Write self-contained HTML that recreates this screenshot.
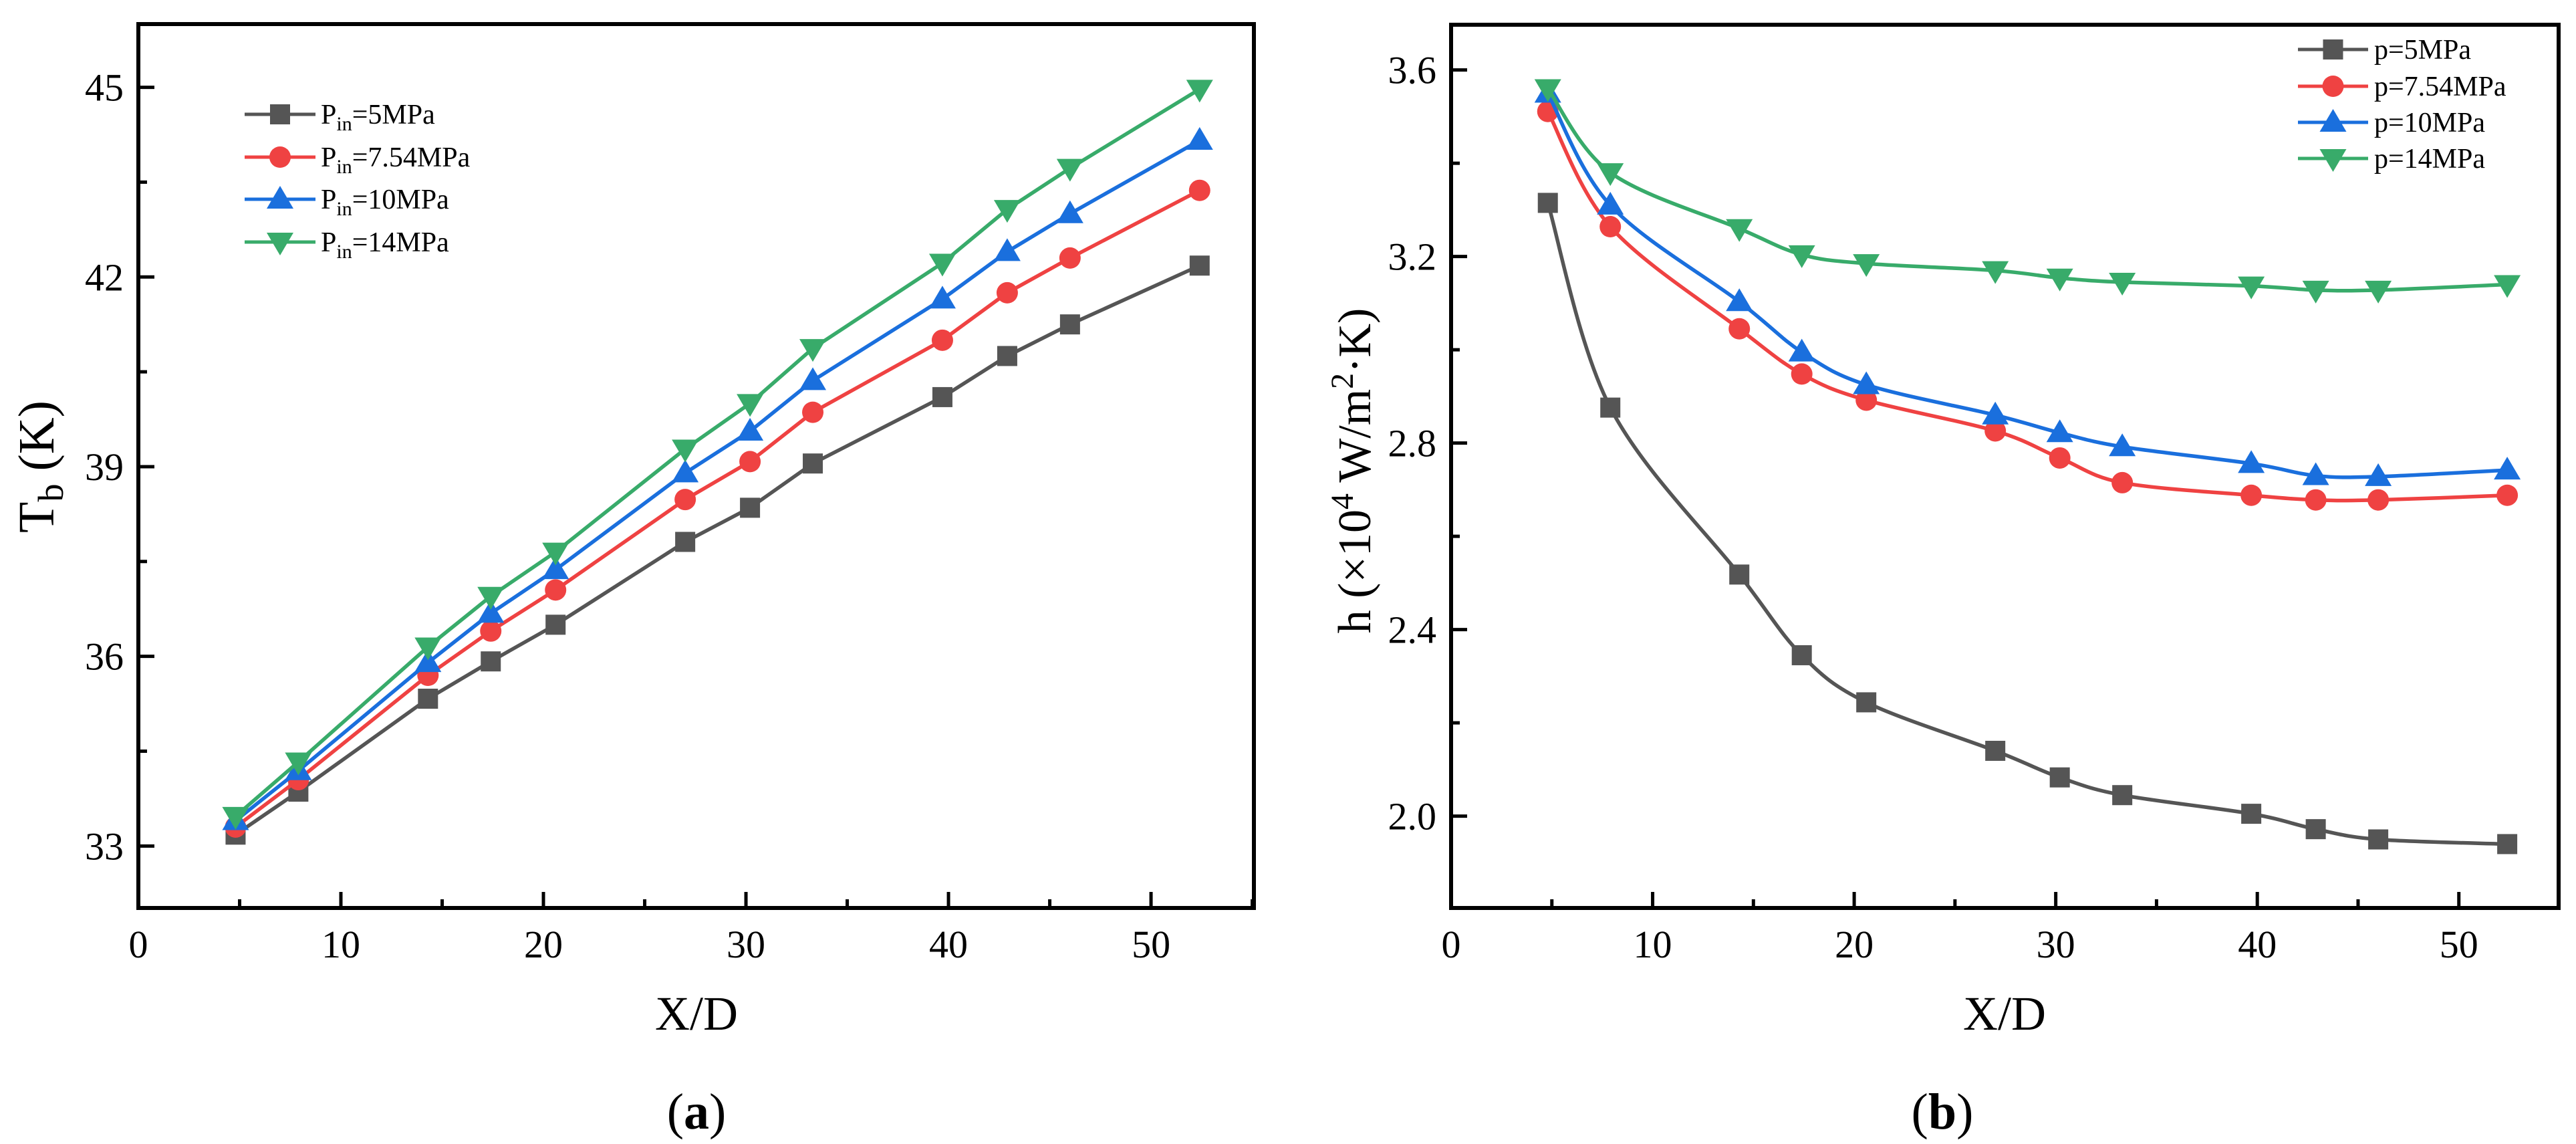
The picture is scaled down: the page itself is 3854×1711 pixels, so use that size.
<!DOCTYPE html>
<html><head><meta charset="utf-8">
<style>
html,body{margin:0;padding:0;background:#fff;}
svg{display:block;font-family:"Liberation Serif",serif;}
</style></head>
<body>
<svg id="fig" width="3854" height="1711" viewBox="0 0 3854 1711" xmlns="http://www.w3.org/2000/svg"></svg>
<script>
const xPos = [4.8, 7.9, 14.3, 17.4, 20.6, 27.0, 30.2, 33.3, 39.7, 42.9, 46.0, 52.4];
const seriesNamesA = ["Pin=5MPa","Pin=7.54MPa","Pin=10MPa","Pin=14MPa"];
const tbP5   = [33.18, 33.86, 35.33, 35.92, 36.50, 37.81, 38.35, 39.05, 40.10, 40.75, 41.25, 42.18];
const tbP754 = [33.30, 34.05, 35.70, 36.40, 37.05, 38.48, 39.08, 39.86, 41.00, 41.75, 42.30, 43.37];
const tbP10  = [33.40, 34.19, 35.90, 36.68, 37.37, 38.90, 39.56, 40.36, 41.65, 42.40, 43.00, 44.16];
const tbP14  = [33.47, 34.33, 36.15, 36.95, 37.65, 39.28, 40.00, 40.87, 42.22, 43.07, 43.72, 44.97];
const hP5    = [3.315, 2.876, 2.518, 2.345, 2.244, 2.140, 2.083, 2.045, 2.005, 1.972, 1.950, 1.940];
const hP754  = [3.511, 3.264, 3.045, 2.948, 2.892, 2.826, 2.768, 2.715, 2.688, 2.678, 2.678, 2.688];
const hP10   = [3.550, 3.310, 3.103, 2.995, 2.925, 2.860, 2.822, 2.792, 2.756, 2.730, 2.728, 2.742];
const hP14   = [3.560, 3.380, 3.260, 3.204, 3.185, 3.170, 3.154, 3.145, 3.137, 3.128, 3.128, 3.140];
const xTicks = [0, 10, 20, 30, 40, 50];
const yTicksA = [33, 36, 39, 42, 45];
const yTicksB = [2.0, 2.4, 2.8, 3.2, 3.6];
const yTickLabelsB = ["2.0","2.4","2.8","3.2","3.6"];

const NS = "http://www.w3.org/2000/svg";
const svg = document.getElementById("fig");
const colors = ["#555555","#ef4242","#1a6fdd","#38ab6a"];
const markers = ["square","circle","up","down"];

function mk(tag, attrs, parent){
  const e = document.createElementNS(NS, tag);
  for (const k in attrs) e.setAttribute(k, attrs[k]);
  (parent||svg).appendChild(e);
  return e;
}
function marker(g, kind, x, y, col){
  let e;
  if (kind==="square") e = mk("rect",{x:x-15,y:y-15,width:30,height:30,fill:col},g);
  else if (kind==="circle") e = mk("circle",{cx:x,cy:y,r:16,fill:col},g);
  else if (kind==="up") e = mk("polygon",{points:`${x},${y-20} ${x+20},${y+14} ${x-20},${y+14}`,fill:col},g);
  else e = mk("polygon",{points:`${x},${y+20} ${x+20},${y-14} ${x-20},${y-14}`,fill:col},g);
  
  
}
function splinePath(pts){
  let d = `M${pts[0][0]},${pts[0][1]}`;
  for (let i=0;i<pts.length-1;i++){
    const p0=pts[Math.max(0,i-1)], p1=pts[i], p2=pts[i+1], p3=pts[Math.min(pts.length-1,i+2)];
    const c1x=p1[0]+(p2[0]-p0[0])/6, c1y=p1[1]+(p2[1]-p0[1])/6;
    const c2x=p2[0]-(p3[0]-p1[0])/6, c2y=p2[1]-(p3[1]-p1[1])/6;
    d += ` C${c1x},${c1y} ${c2x},${c2y} ${p2[0]},${p2[1]}`;
  }
  return d;
}

function panel(cfg){
  const {L,R,T,B,xMax,yMin,yMax,yTicks,yLabels,series,smooth,name} = cfg;
  const sx = v => L + (v/xMax)*(R-L);
  const sy = v => B - (v-yMin)/(yMax-yMin)*(B-T);
  const g = mk("g",{});
  
  
  series.forEach((vals,si)=>{
    const pts = xPos.map((x,i)=>[sx(x), sy(vals[i])]);
    const sg = mk("g",{},g);
    
    
    let d;
    if (smooth) d = splinePath(pts);
    else d = "M" + pts.map(p=>p.join(",")).join(" L");
    const path = mk("path",{d:d,fill:"none",stroke:colors[si],"stroke-width":5.5,"stroke-linejoin":"round"},sg);
    
    
    pts.forEach(p=>marker(sg, markers[si], p[0], p[1], colors[si]));
  });
  const fr = mk("rect",{x:L,y:T,width:R-L,height:B-T,fill:"none",stroke:"#000","stroke-width":6},g);
  
  
  for (let v=0; v<=xMax; v+=5){
    const x = sx(v), major = (v%10===0);
    mk("line",{x1:x,y1:B,x2:x,y2:B-(major?24:13),stroke:"#000","stroke-width":5},g);
  }
  xTicks.forEach(v=>{
    const t = mk("text",{x:sx(v),y:B+74,"font-size":58,"text-anchor":"middle"},g);
    t.textContent = String(v);
    
    
  });
  const step = yTicks[1]-yTicks[0];
  for (let i=0;i<yTicks.length;i++){
    const y = sy(yTicks[i]);
    mk("line",{x1:L,y1:y,x2:L+24,y2:y,stroke:"#000","stroke-width":5},g);
    const ym = sy(yTicks[i]+step/2);
    if (ym>T) mk("line",{x1:L,y1:ym,x2:L+13,y2:ym,stroke:"#000","stroke-width":5},g);
    const t = mk("text",{x:L-22,y:y+20,"font-size":58,"text-anchor":"end"},g);
    t.textContent = yLabels[i];
    
    
  }
  const ym0 = sy(yTicks[0]-step/2);
  if (ym0<B) mk("line",{x1:L,y1:ym0,x2:L+13,y2:ym0,stroke:"#000","stroke-width":5},g);
  return g;
}

panel({L:207,R:1876,T:36,B:1358,xMax:55.08,yMin:32.02,yMax:46.0,yTicks:yTicksA,
  yLabels:yTicksA.map(String),series:[tbP5,tbP754,tbP10,tbP14],smooth:false,name:"panel-a"});
panel({L:2171,R:3828,T:37,B:1358,xMax:54.95,yMin:1.803,yMax:3.697,yTicks:yTicksB,
  yLabels:yTickLabelsB,series:[hP5,hP754,hP10,hP14],smooth:true,name:"panel-b"});

function legendEntry(x0,x1,y,si,labelHTML,tx,name){
  const g = mk("g",{});
  
  
  mk("line",{x1:x0,y1:y,x2:x1,y2:y,stroke:colors[si],"stroke-width":5},g);
  marker(g, markers[si], (x0+x1)/2, y, colors[si]);
  const t = mk("text",{x:tx,y:y+14,"font-size":42},g);
  t.innerHTML = labelHTML;
}
const labA = ["5MPa","7.54MPa","10MPa","14MPa"];
const rowA = [171,235,298,362];
labA.forEach((l,i)=>legendEntry(366,472,rowA[i],i,
  `P<tspan font-size="30" dy="10">in</tspan><tspan dy="-10">=${l}</tspan>`,480,'legend-entry-a-'+i));
const rowB = [74,129,183,237];
labA.forEach((l,i)=>legendEntry(3438,3543,rowB[i],i,`p=${l}`,3552,'legend-entry-b-'+i));
</script>
<script>
(function(){
  const NS="http://www.w3.org/2000/svg";
  const svg=document.getElementById("fig");
  function txt(attrs, html, name){
    const t=document.createElementNS(NS,"text");
    for(const k in attrs) t.setAttribute(k,attrs[k]);
    t.innerHTML=html;
    
    
    svg.appendChild(t);
  }
  txt({x:1042,y:1540,"font-size":72,"text-anchor":"middle"},"X/D","x-axis-title-a");
  txt({x:2999,y:1540,"font-size":72,"text-anchor":"middle"},"X/D","x-axis-title-b");
  txt({x:1042,y:1688,"font-size":76,"text-anchor":"middle"},"(<tspan font-weight=\"bold\">a</tspan>)","caption-a");
  txt({x:2906,y:1688,"font-size":76,"text-anchor":"middle"},"(<tspan font-weight=\"bold\">b</tspan>)","caption-b");
  txt({x:0,y:0,"font-size":76,"text-anchor":"middle",transform:"translate(80,698) rotate(-90)"},
     "T<tspan font-size=\"54\" dy=\"14\">b</tspan><tspan dy=\"-14\"> (K)</tspan>","y-axis-title-a");
  txt({x:0,y:0,"font-size":70,"text-anchor":"middle",transform:"translate(2050,704) rotate(-90)"},
     "h (×10<tspan font-size=\"48\" dy=\"-26\">4</tspan><tspan dy=\"26\"> W/m</tspan><tspan font-size=\"48\" dy=\"-26\">2</tspan><tspan dy=\"26\">·K)</tspan>","y-axis-title-b");
})();
</script>
</body></html>
